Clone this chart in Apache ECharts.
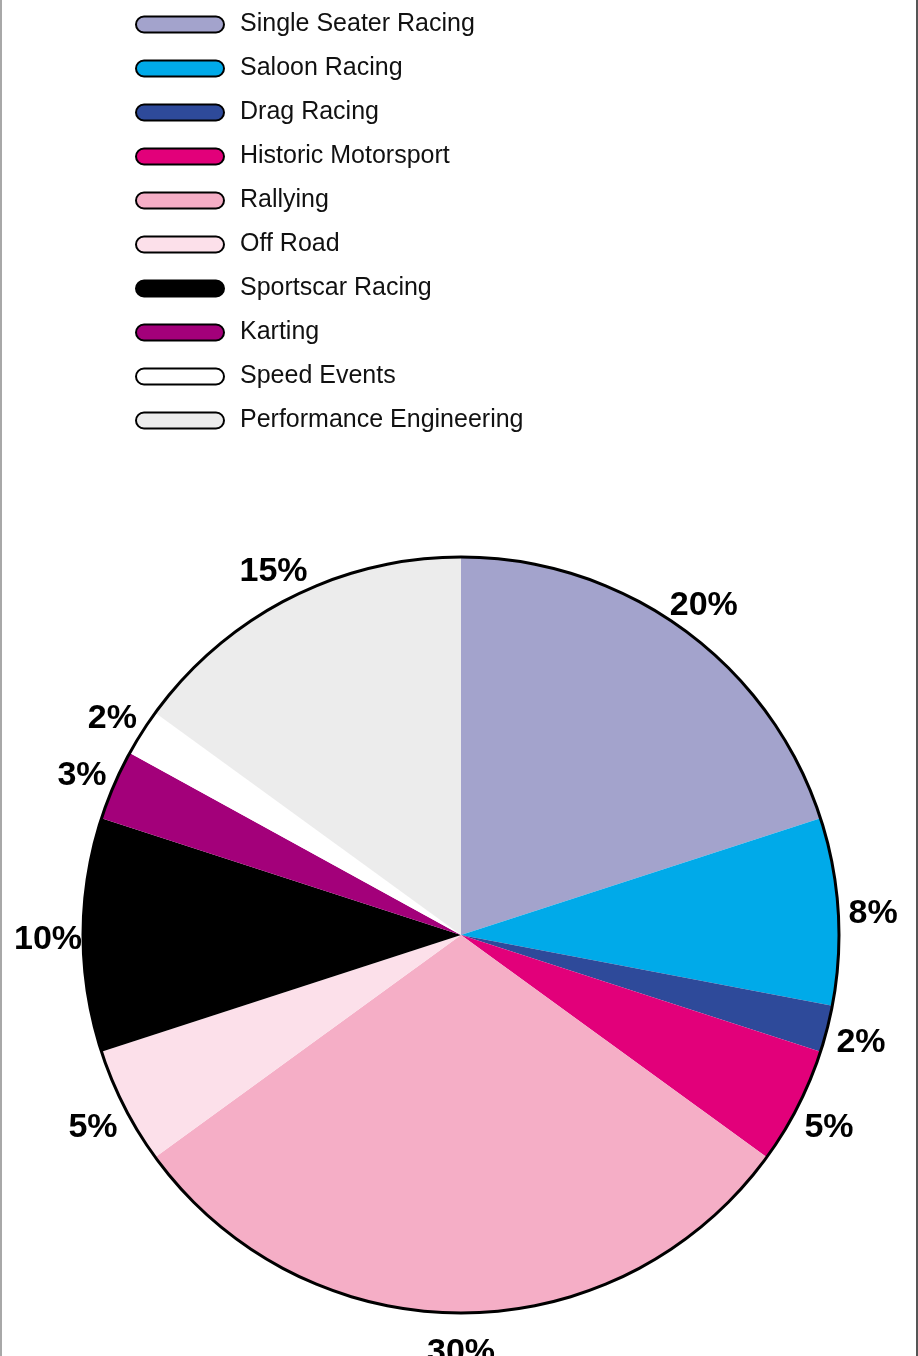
<!DOCTYPE html>
<html>
<head>
<meta charset="utf-8">
<title>Motorsport categories</title>
<script src="https://cdn.jsdelivr.net/npm/echarts@6/dist/echarts.min.js"></script>
<style>
  html, body { margin: 0; padding: 0; background: #ffffff; }
  #wrap { position: relative; width: 918px; height: 1356px; overflow: hidden; }
  #chart { position: absolute; left: 0; top: 0; width: 918px; height: 1356px; }
  #frame {
    position: absolute; left: 0; top: 0; width: 918px; height: 1356px;
    box-sizing: border-box; border-left: 2px solid #a8a8a8; border-right: 2px solid #555555;
    pointer-events: none;
  }
</style>
</head>
<body>
<div id="wrap">
  <div id="chart"></div>
  <div id="frame"></div>
</div>
<script>
// Categories, in clockwise order starting at twelve o'clock
const categories = [
  'Single Seater Racing',
  'Saloon Racing',
  'Drag Racing',
  'Historic Motorsport',
  'Rallying',
  'Off Road',
  'Sportscar Racing',
  'Karting',
  'Speed Events',
  'Performance Engineering'
];

// Share of each category, in percent
const shares = [20, 8, 2, 5, 30, 5, 10, 3, 2, 15];

// Slice / legend colours
const palette = [
  '#a3a3cc',
  '#00aae9',
  '#2e4a9a',
  '#e2007a',
  '#f5aec6',
  '#fce0ea',
  '#000000',
  '#a3007a',
  '#ffffff',
  '#ececec'
];

// Pie geometry (pixels)
const PIE_CX = 461;
const PIE_CY = 935;
const PIE_R = 378;
const LABEL_R = 413;   // radius where percentage labels are centred
const LABEL_BASE_SHIFT = 5; // moves the glyphs so their visual centre sits on the anchor
const OUTLINE_W = 3;

// Mid-angle of every slice (clockwise from 12 o'clock), used to centre labels
const total = shares.reduce((a, b) => a + b, 0);
const midAngles = [];
let acc = 0;
shares.forEach(v => {
  midAngles.push((acc + v / 2) / total * Math.PI * 2);
  acc += v;
});

const chart = echarts.init(document.getElementById('chart'), null, { renderer: 'canvas' });

const option = {
  backgroundColor: '#ffffff',
  animation: false,
  legend: {
    data: categories,
    orient: 'vertical',
    left: 130,
    top: 7,
    itemWidth: 88,
    itemHeight: 16,
    itemGap: 19,
    selectedMode: false,
    icon: 'path://M8 0H80A8 8 0 0 1 80 16H8A8 8 0 0 1 8 0Z',
    itemStyle: { borderColor: '#000000', borderWidth: 2 },
    textStyle: {
      fontFamily: '"Liberation Sans", Arial, sans-serif',
      fontSize: 25,
      color: '#111111',
      padding: [0, 0, 0, 11]
    }
  },
  series: [
    {
      name: 'Share',
      type: 'pie',
      center: [PIE_CX, PIE_CY],
      radius: [0, PIE_R],
      startAngle: 90,
      clockwise: true,
      avoidLabelOverlap: false,
      silent: true,
      itemStyle: { borderWidth: 0 },
      emphasis: { disabled: true },
      label: {
        show: true,
        position: 'outside',
        formatter: '{c}%',
        fontFamily: '"Liberation Sans", Arial, sans-serif',
        fontWeight: 'bold',
        fontSize: 34,
        color: '#000000'
      },
      labelLine: { show: false, length: 10, length2: 0 },
      labelLayout: function (p) {
        const a = midAngles[p.dataIndex];
        return {
          x: PIE_CX + LABEL_R * Math.sin(a),
          y: PIE_CY - LABEL_R * Math.cos(a) + LABEL_BASE_SHIFT,
          align: 'center',
          verticalAlign: 'middle'
        };
      },
      data: categories.map((name, i) => ({
        name: name,
        value: shares[i],
        itemStyle: { color: palette[i] }
      }))
    },
    {
      // black outline around the whole pie
      name: 'outline',
      type: 'pie',
      center: [PIE_CX, PIE_CY],
      radius: [PIE_R - OUTLINE_W / 2, PIE_R + OUTLINE_W / 2],
      silent: true,
      emphasis: { disabled: true },
      label: { show: false },
      labelLine: { show: false },
      itemStyle: { color: '#000000', borderWidth: 0 },
      data: [{ name: 'outline', value: 1 }]
    }
  ]
};

chart.setOption(option);
</script>
</body>
</html>
